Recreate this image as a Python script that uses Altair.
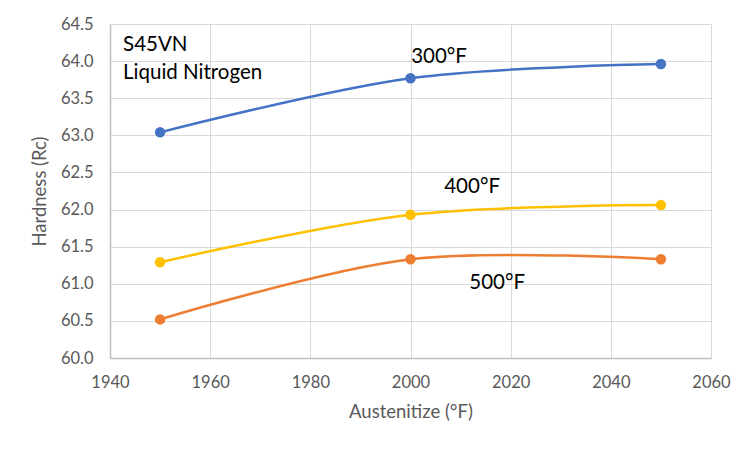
import altair as alt
import pandas as pd

austenitize = [1950, 2000, 2050]
series_names = ["300°F", "400°F", "500°F"]
hard_300 = [63.04, 63.77, 63.96]
hard_400 = [61.29, 61.93, 62.06]
hard_500 = [60.52, 61.33, 61.33]
colors = ["#4472C4", "#FFC000", "#ED7D31"]

label_text = ["300°F", "400°F", "500°F"]
label_x = [2005.7, 2012.3, 2017.3]
label_y = [64.05, 62.30, 61.01]

note_text = ["S45VN", "Liquid Nitrogen"]
note_x = [1942.6, 1942.6]
note_y = [64.22, 63.84]

x_ticks = [1940, 1960, 1980, 2000, 2020, 2040, 2060]
y_ticks = [60.0, 60.5, 61.0, 61.5, 62.0, 62.5, 63.0, 63.5, 64.0, 64.5]

rows = []
for name, vals in zip(series_names, [hard_300, hard_400, hard_500]):
    for x, v in zip(austenitize, vals):
        rows.append({"series": name, "x": x, "y": v})
df = pd.DataFrame(rows)
labels = pd.DataFrame({"t": label_text, "x": label_x, "y": label_y})
notes = pd.DataFrame({"t": note_text, "x": note_x, "y": note_y})

FONT = "Lato"
xs = alt.Scale(domain=[1940, 2060], nice=False, zero=False)
ys = alt.Scale(domain=[60.0, 64.5], nice=False, zero=False)
cs = alt.Scale(domain=series_names, range=colors)

xaxis = alt.Axis(values=x_ticks, format="d", grid=True, ticks=False, labelPadding=16,
                 titlePadding=12, labelFlush=False, labelOverlap=False)
yaxis = alt.Axis(values=y_ticks, format=".1f", grid=True, ticks=False, labelPadding=17,
                 titlePadding=11, labelFlush=False, labelOverlap=False)

def X():
    return alt.X("x:Q", scale=xs, title="Austenitize (°F)", axis=xaxis)

def Y():
    return alt.Y("y:Q", scale=ys, title="Hardness (Rc)", axis=yaxis)

lines = alt.Chart(df).mark_line(interpolate="catmull-rom", strokeWidth=2.5).encode(
    x=X(), y=Y(), color=alt.Color("series:N", scale=cs, legend=None), detail="series:N")
points = alt.Chart(df).mark_point(filled=True, size=110, opacity=1).encode(
    x=X(), y=Y(), color=alt.Color("series:N", scale=cs, legend=None))
lab = alt.Chart(labels).mark_text(fontSize=20.5, font=FONT, color="black", align="center", baseline="middle").encode(
    x=X(), y=Y(), text="t:N")
note = alt.Chart(notes).mark_text(fontSize=20.5, font=FONT, color="black", align="left", baseline="middle").encode(
    x=X(), y=Y(), text="t:N")

chart = alt.layer(lines, points, lab, note).properties(
    width=601, height=334,
    autosize=alt.AutoSizeParams(type="none"),
    padding={"left": 102, "top": 16, "right": 26, "bottom": 78},
    background="white",
).configure_view(stroke=None).configure_axis(
    gridColor="#D9D9D9", gridWidth=1, domainColor="#BFBFBF", domainWidth=1.5,
    labelColor="#595959", titleColor="#595959", labelFont=FONT, titleFont=FONT,
    labelFontSize=16.5, titleFontSize=18.5, titleFontWeight="normal",
)

chart.save("out.html", embed_options={"renderer": "svg", "actions": False})
